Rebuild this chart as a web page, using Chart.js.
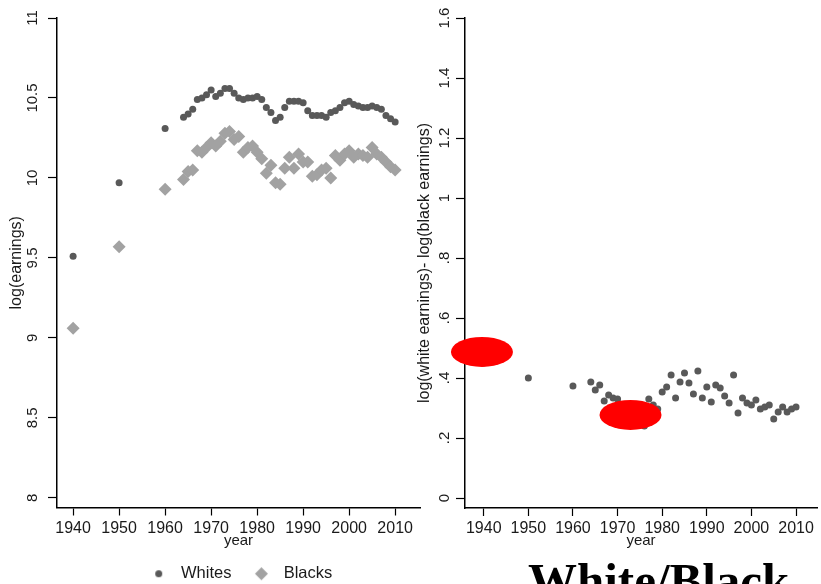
<!DOCTYPE html>
<html>
<head>
<meta charset="utf-8">
<script src="https://cdn.jsdelivr.net/npm/chart.js@4.4.1/dist/chart.umd.min.js"></script>
<style>
  html, body { margin: 0; padding: 0; background: #fff; overflow: hidden; }
  body { width: 821px; height: 584px; position: relative; }
  #leftBox { position: absolute; left: 0; top: 0; width: 430px; height: 592px; }
  #rightBox { position: absolute; left: 410px; top: 0; width: 411px; height: 584px; }
  #caption {
    position: absolute; left: 528px; top: 556px;
    font: bold 49px 'Liberation Serif', 'Times New Roman', serif;
    line-height: 1; color: #000; white-space: nowrap;
  }
</style>
</head>
<body>
<div id="leftBox"><canvas id="earningsChart"></canvas></div>
<div id="rightBox"><canvas id="gapChart"></canvas></div>
<div id="caption">White/Black</div>

<script>
// ---- Data ----
const years = [1940, 1950, 1960,
  1964, 1965, 1966, 1967, 1968, 1969, 1970, 1971, 1972, 1973, 1974, 1975, 1976,
  1977, 1978, 1979, 1980, 1981, 1982, 1983, 1984, 1985, 1986, 1987, 1988, 1989,
  1990, 1991, 1992, 1993, 1994, 1995, 1996, 1997, 1998, 1999, 2000, 2001, 2002,
  2003, 2004, 2005, 2006, 2007, 2008, 2009, 2010];

// log(earnings), whites
const whites = [9.51, 9.97, 10.31,
  10.38, 10.40, 10.43, 10.49, 10.50, 10.52, 10.55, 10.51, 10.53, 10.56, 10.56, 10.53, 10.50,
  10.49, 10.50, 10.50, 10.51, 10.49, 10.44, 10.41, 10.36, 10.38, 10.44, 10.48, 10.48, 10.48,
  10.47, 10.42, 10.39, 10.39, 10.39, 10.38, 10.41, 10.42, 10.44, 10.47, 10.48, 10.46, 10.45,
  10.44, 10.44, 10.45, 10.44, 10.43, 10.39, 10.37, 10.35];

// log(earnings), blacks
const blacks = [9.06, 9.57, 9.93,
  9.99, 10.04, 10.05, 10.17, 10.16, 10.19, 10.22, 10.20, 10.23, 10.28, 10.29, 10.24, 10.26,
  10.16, 10.19, 10.20, 10.16, 10.12, 10.03, 10.08, 9.97, 9.96, 10.06, 10.13, 10.06, 10.15,
  10.10, 10.10, 10.01, 10.02, 10.05, 10.06, 10.00, 10.14, 10.11, 10.15, 10.17, 10.13, 10.15,
  10.14, 10.13, 10.19, 10.15, 10.13, 10.10, 10.07, 10.05];

// log(white earnings) - log(black earnings)
const gaps = [0.45, 0.40, 0.373,
  0.387, 0.36, 0.377, 0.323, 0.343, 0.333, 0.33, 0.31, 0.30, 0.28, 0.27, 0.29, 0.24,
  0.33, 0.31, 0.297, 0.353, 0.37, 0.41, 0.333, 0.387, 0.417, 0.383, 0.347, 0.423, 0.333,
  0.37, 0.32, 0.377, 0.367, 0.34, 0.317, 0.41, 0.283, 0.333, 0.317, 0.31, 0.327, 0.297,
  0.303, 0.31, 0.263, 0.287, 0.303, 0.287, 0.297, 0.303];

const yearTicks = [1940, 1950, 1960, 1970, 1980, 1990, 2000, 2010];
const earningsTicks = [8, 8.5, 9, 9.5, 10, 10.5, 11];
const gapTicks = [0, 0.2, 0.4, 0.6, 0.8, 1, 1.2, 1.4, 1.6];
const gapTickLabels = ['0', '.2', '.4', '.6', '.8', '1', '1.2', '1.4', '1.6'];

// red highlight marks on the gap chart (year, gap)
const markYears = [1939.6, 1972.9];
const markValues = [0.487, 0.277];

// ---- Shared look ----
Chart.defaults.font.family = "'Liberation Sans', Arial, sans-serif";
Chart.defaults.color = '#1a1a1a';
Chart.defaults.animation = false;

const DARK = '#595959';
const LIGHT = '#a2a2a2';

const toPoints = (ys) => years.map((yr, i) => ({ x: yr, y: ys[i] }));
const fixedTicks = (values) => (scale) => {
  scale.ticks = values.map((v) => ({ value: v }));
};

// legend markers drawn at the same size as the plotted ones
function makeMarker(shape, radius, color) {
  const c = document.createElement('canvas');
  c.width = c.height = Math.ceil(radius * 2 + 2);
  const ctx = c.getContext('2d');
  const m = c.width / 2;
  ctx.fillStyle = color;
  ctx.beginPath();
  if (shape === 'circle') {
    ctx.arc(m, m, radius, 0, Math.PI * 2);
  } else {
    ctx.moveTo(m - radius, m);
    ctx.lineTo(m, m - radius);
    ctx.lineTo(m + radius, m);
    ctx.lineTo(m, m + radius);
    ctx.closePath();
  }
  ctx.fill();
  return c;
}

function yearAxis(min, max, height, titlePad) {
  return {
    type: 'linear',
    min,
    max,
    afterBuildTicks: fixedTicks(yearTicks),
    afterFit: (scale) => { scale.height = height; },
    ticks: {
      autoSkip: false,
      maxRotation: 0,
      padding: 3,
      font: { size: 16 },
      callback: (v) => String(v),
    },
    grid: { drawOnChartArea: false, tickLength: 8, tickColor: '#000', tickWidth: 1.2 },
    border: { color: '#000', width: 1.5 },
    title: { display: true, text: 'year', font: { size: 15 }, padding: titlePad },
  };
}

function valueAxis(min, max, values, labels, width, title, titlePad) {
  return {
    type: 'linear',
    min,
    max,
    afterBuildTicks: fixedTicks(values),
    afterFit: (scale) => { scale.width = width; },
    ticks: {
      minRotation: 90,
      maxRotation: 90,
      crossAlign: 'center',
      padding: 1,
      font: { size: 15 },
      callback: (v) => {
        const i = values.indexOf(v);
        return labels ? labels[i] : String(v);
      },
    },
    grid: { drawOnChartArea: false, tickLength: 9, tickColor: '#000', tickWidth: 1.2 },
    border: { color: '#000', width: 1.5 },
    title: { display: true, text: title, font: { size: 16 }, padding: titlePad },
  };
}

const redMarks = {
  id: 'redMarks',
  afterDraw(chart) {
    const { ctx, scales } = chart;
    ctx.save();
    ctx.fillStyle = '#ff0000';
    markYears.forEach((yr, i) => {
      const cx = scales.x.getPixelForValue(yr);
      const cy = scales.y.getPixelForValue(markValues[i]);
      ctx.beginPath();
      ctx.ellipse(cx, cy, 31, 15, 0, 0, Math.PI * 2);
      ctx.fill();
    });
    ctx.restore();
  },
};

// ---- Chart 1: log earnings by race ----
const legendMarkers = [makeMarker('circle', 3.5, DARK), makeMarker('diamond', 6.5, LIGHT)];

new Chart(document.getElementById('earningsChart'), {
  type: 'scatter',
  data: {
    datasets: [
      {
        label: 'Whites',
        data: toPoints(whites),
        pointStyle: 'circle',
        pointRadius: 3.5,
        pointBackgroundColor: DARK,
        pointBorderWidth: 0,
      },
      {
        label: 'Blacks',
        data: toPoints(blacks),
        pointStyle: 'rectRot',
        pointRadius: 6.5,
        pointBackgroundColor: LIGHT,
        pointBorderWidth: 0,
      },
    ],
  },
  options: {
    responsive: true,
    maintainAspectRatio: false,
    events: [],
    layout: { padding: { top: 18, right: 10, bottom: 0, left: 0 } },
    plugins: {
      tooltip: { enabled: false },
      legend: {
        position: 'bottom',
        fullSize: false,
        labels: {
          usePointStyle: true,
          pointStyleWidth: 28,
          padding: 16,
          font: { size: 16.5 },
          color: '#1a1a1a',
          generateLabels: (chart) => {
            const items = Chart.defaults.plugins.legend.labels.generateLabels(chart);
            items.forEach((item, i) => { item.pointStyle = legendMarkers[i]; });
            return items;
          },
        },
      },
    },
    scales: {
      x: yearAxis(1936.5, 2015.4, 42, { top: 0, bottom: 0 }),
      y: valueAxis(7.94, 11, earningsTicks, null, 57, 'log(earnings)', { top: 7, bottom: 0 }),
    },
  },
});

// ---- Chart 2: white/black log earnings gap ----
new Chart(document.getElementById('gapChart'), {
  type: 'scatter',
  data: {
    datasets: [
      {
        label: 'Gap',
        data: toPoints(gaps),
        pointStyle: 'circle',
        pointRadius: 3.5,
        pointBackgroundColor: DARK,
        pointBorderWidth: 0,
      },
    ],
  },
  options: {
    responsive: true,
    maintainAspectRatio: false,
    events: [],
    layout: { padding: { top: 18, right: 1, bottom: 0, left: 0 } },
    plugins: {
      tooltip: { enabled: false },
      legend: { display: false },
    },
    scales: {
      x: yearAxis(1935.8, 2014.7, 76, { top: 0, bottom: 34 }),
      y: valueAxis(-0.0333, 1.6, gapTicks, gapTickLabels, 55,
        'log(white earnings)- log(black earnings)', { top: 5, bottom: 0 }),
    },
  },
  plugins: [redMarks],
});
</script>
</body>
</html>
